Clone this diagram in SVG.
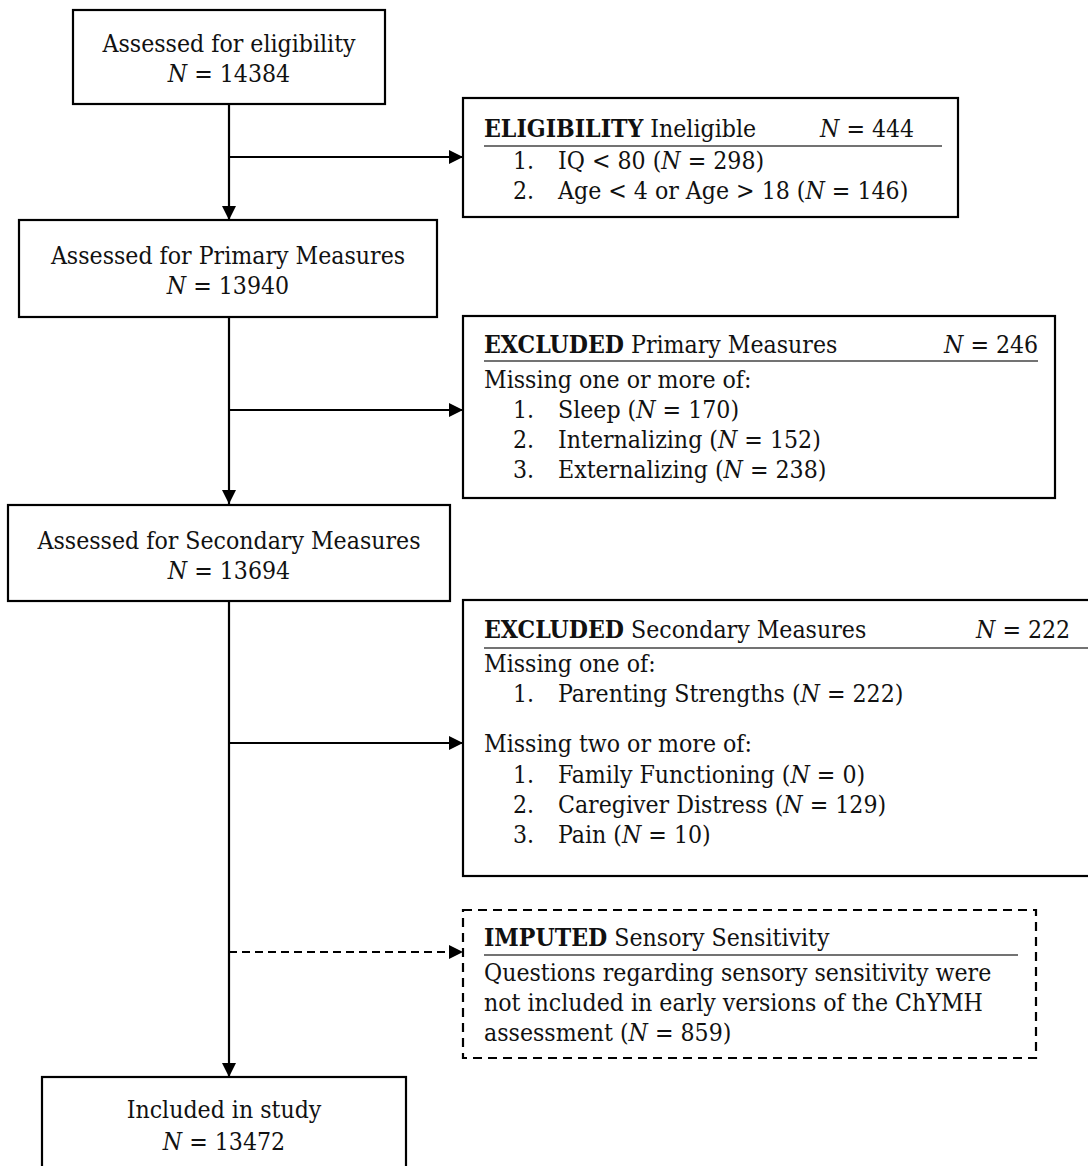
<svg xmlns="http://www.w3.org/2000/svg" width="1088" height="1166" viewBox="0 0 1088 1166">
<defs>
<style>
text{font-family:"DejaVu Serif Condensed","DejaVu Serif","Liberation Serif",serif;font-stretch:condensed;font-size:24.6px;fill:#111}
.c{text-anchor:middle}
.b{font-weight:bold}
.i{font-style:italic}
.box{fill:#fff;stroke:#000;stroke-width:2.2}
.dbox{fill:#fff;stroke:#000;stroke-width:2.2;stroke-dasharray:9 6}
.rule{stroke:#444;stroke-width:1.5}
.ln{stroke:#000;stroke-width:2.2;fill:none}
.dl{stroke:#000;stroke-width:2.2;fill:none;stroke-dasharray:8 5}
</style>
<marker id="ah" viewBox="0 0 14 14" refX="14" refY="7" markerWidth="14" markerHeight="14" markerUnits="userSpaceOnUse" orient="auto">
<path d="M0,0 L14,7 L0,14 Z" fill="#000"/>
</marker>
</defs>
<rect width="1088" height="1166" fill="#fff"/>
<g id="connectors">
<line class="ln" x1="229" y1="104" x2="229" y2="220" marker-end="url(#ah)"/>
<line class="ln" x1="229" y1="157" x2="463" y2="157" marker-end="url(#ah)"/>
<line class="ln" x1="229" y1="317" x2="229" y2="504" marker-end="url(#ah)"/>
<line class="ln" x1="229" y1="410" x2="463" y2="410" marker-end="url(#ah)"/>
<line class="ln" x1="229" y1="601" x2="229" y2="1077" marker-end="url(#ah)"/>
<line class="ln" x1="229" y1="743" x2="463" y2="743" marker-end="url(#ah)"/>
<line class="dl" x1="229" y1="952" x2="463" y2="952" marker-end="url(#ah)"/>
</g>
<g id="assessed-eligibility">
<rect class="box" x="73" y="10" width="312" height="94"/>
<text class="c" x="229" y="52">Assessed for eligibility</text>
<text class="c" x="229" y="82"><tspan class="i">N</tspan> = 14384</text>
</g>
<g id="ineligible">
<rect class="box" x="463" y="98" width="495" height="119"/>
<text x="484" y="137"><tspan class="b">ELIGIBILITY</tspan> Ineligible</text>
<text x="820" y="137"><tspan class="i">N</tspan> = 444</text>
<line class="rule" x1="484" y1="146" x2="942" y2="146"/>
<text x="513" y="169">1.</text><text x="558" y="169">IQ &lt; 80 (<tspan class="i">N</tspan> = 298)</text>
<text x="513" y="199">2.</text><text x="558" y="199">Age &lt; 4 or Age &gt; 18 (<tspan class="i">N</tspan> = 146)</text>
</g>
<g id="assessed-primary">
<rect class="box" x="19" y="220" width="418" height="97"/>
<text class="c" x="228" y="264">Assessed for Primary Measures</text>
<text class="c" x="228" y="294"><tspan class="i">N</tspan> = 13940</text>
</g>
<g id="excluded-primary">
<rect class="box" x="463" y="316" width="592" height="182"/>
<text x="484" y="353"><tspan class="b">EXCLUDED</tspan> Primary Measures</text>
<text x="944" y="353"><tspan class="i">N</tspan> = 246</text>
<line class="rule" x1="484" y1="361" x2="1038" y2="361"/>
<text x="484" y="388">Missing one or more of:</text>
<text x="513" y="418">1.</text><text x="558" y="418">Sleep (<tspan class="i">N</tspan> = 170)</text>
<text x="513" y="448">2.</text><text x="558" y="448">Internalizing (<tspan class="i">N</tspan> = 152)</text>
<text x="513" y="478">3.</text><text x="558" y="478">Externalizing (<tspan class="i">N</tspan> = 238)</text>
</g>
<g id="assessed-secondary">
<rect class="box" x="8" y="505" width="442" height="96"/>
<text class="c" x="229" y="549">Assessed for Secondary Measures</text>
<text class="c" x="229" y="579"><tspan class="i">N</tspan> = 13694</text>
</g>
<g id="excluded-secondary">
<rect class="box" x="463" y="600" width="640" height="276"/>
<text x="484" y="638"><tspan class="b">EXCLUDED</tspan> Secondary Measures</text>
<text x="976" y="638"><tspan class="i">N</tspan> = 222</text>
<line class="rule" x1="484" y1="648" x2="1088" y2="648"/>
<text x="484" y="672">Missing one of:</text>
<text x="513" y="702">1.</text><text x="558" y="702">Parenting Strengths (<tspan class="i">N</tspan> = 222)</text>
<text x="484" y="752">Missing two or more of:</text>
<text x="513" y="783">1.</text><text x="558" y="783">Family Functioning (<tspan class="i">N</tspan> = 0)</text>
<text x="513" y="813">2.</text><text x="558" y="813">Caregiver Distress (<tspan class="i">N</tspan> = 129)</text>
<text x="513" y="843">3.</text><text x="558" y="843">Pain (<tspan class="i">N</tspan> = 10)</text>
</g>
<g id="imputed">
<rect class="dbox" x="463" y="910" width="573" height="148"/>
<text x="484" y="946"><tspan class="b">IMPUTED</tspan> Sensory Sensitivity</text>
<line class="rule" x1="484" y1="955" x2="1018" y2="955"/>
<text x="484" y="981">Questions regarding sensory sensitivity were</text>
<text x="484" y="1011">not included in early versions of the ChYMH</text>
<text x="484" y="1041">assessment (<tspan class="i">N</tspan> = 859)</text>
</g>
<g id="included">
<rect class="box" x="42" y="1077" width="364" height="120"/>
<text class="c" x="224" y="1118">Included in study</text>
<text class="c" x="224" y="1150"><tspan class="i">N</tspan> = 13472</text>
</g>
</svg>
